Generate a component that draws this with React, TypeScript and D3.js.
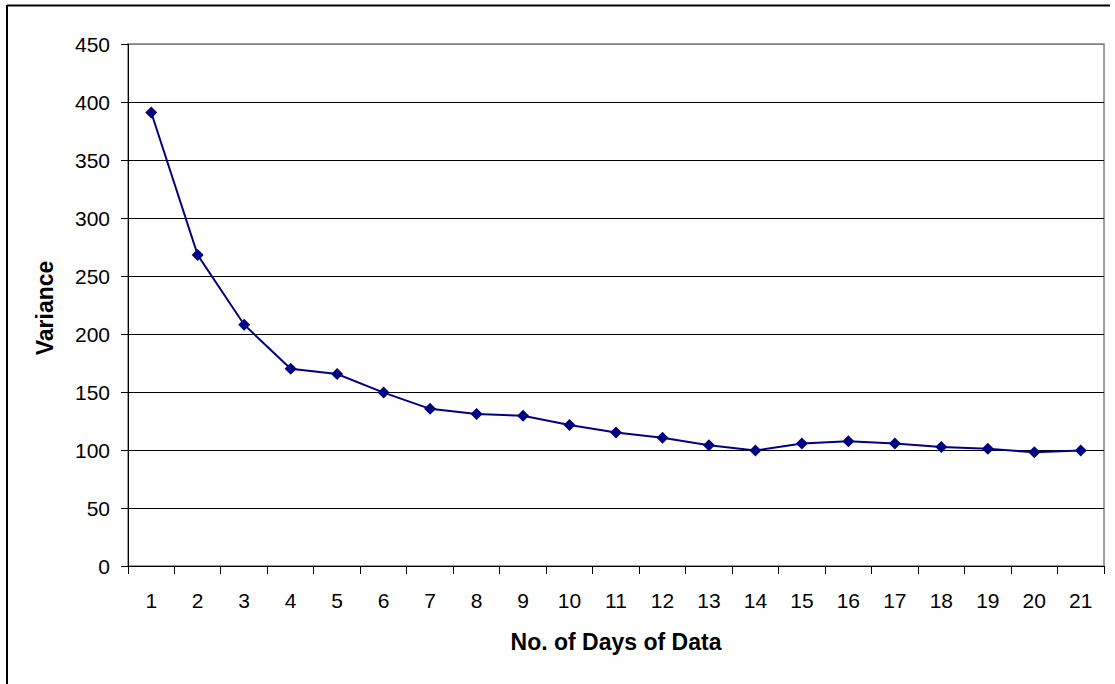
import React from "react";
import * as d3 from "d3";

const days: string[] = ["1","2","3","4","5","6","7","8","9","10","11","12","13","14","15","16","17","18","19","20","21"];
const variance: number[] = [391, 268, 208, 170, 165.5, 149.5, 135.5, 131, 129.5, 121.5, 115, 110.5, 104, 99.5, 105.5, 107.5, 105.5, 102.5, 101, 98, 99.5];
const yTicks: number[] = [0, 50, 100, 150, 200, 250, 300, 350, 400, 450];
const xTitle = "No. of Days of Data";
const yTitle = "Variance";

export default function App() {
  const W = 1115, H = 684;
  const left = 128, right = 1104, top = 44, bottom = 566;
  const x = d3.scaleBand<string>().domain(days).range([left, right]).padding(0);
  const y = d3.scaleLinear().domain([0, 450]).range([bottom, top]);
  const line = d3.line<number>()
    .x((_, i) => (x(days[i]) as number) + x.bandwidth() / 2)
    .y((d) => y(d));
  const font = "'Liberation Sans', Arial, sans-serif";
  const tickBounds = days.map((d) => x(d) as number).concat([right]);
  return (
    <svg width={W} height={H} style={{ position: "absolute", left: 0, top: 0, background: "#fff" }} fontFamily={font}>
      <rect x={0} y={0} width={W} height={H} fill="#fff" />
      {/* outer chart border (cropped) */}
      <line x1={7} y1={5.5} x2={1110} y2={5.5} stroke="#000" strokeWidth={2} />
      <line x1={7} y1={5} x2={7} y2={H} stroke="#000" strokeWidth={2} />
      {/* plot area border */}
      <rect x={left} y={top} width={right - left} height={bottom - top} fill="none" stroke="#808080" strokeWidth={1.5} />
      {/* gridlines */}
      {yTicks.filter((t) => t > 0).map((t) => (
        <line key={"g" + t} x1={left} x2={right} y1={y(t)} y2={y(t)} stroke={t === 450 ? "#808080" : "#000"} strokeWidth={1} shapeRendering="crispEdges" />
      ))}
      {/* axes */}
      <line x1={left} x2={left} y1={top} y2={bottom} stroke="#000" strokeWidth={1} shapeRendering="crispEdges" />
      <line x1={left - 7} x2={right} y1={bottom} y2={bottom} stroke="#000" strokeWidth={1} shapeRendering="crispEdges" />
      {yTicks.map((t) => (
        <g key={"yt" + t}>
          <line x1={left - 7} x2={left} y1={y(t)} y2={y(t)} stroke="#000" strokeWidth={1} shapeRendering="crispEdges" />
          <text x={110} y={y(t)} dy="0.36em" textAnchor="end" fontSize={21} fill="#000">{t}</text>
        </g>
      ))}
      {tickBounds.map((b, i) => (
        <line key={"xt" + i} x1={b} x2={b} y1={bottom} y2={bottom + 8} stroke="#000" strokeWidth={1} shapeRendering="crispEdges" />
      ))}
      {days.map((d) => (
        <text key={"xl" + d} x={(x(d) as number) + x.bandwidth() / 2} y={608} textAnchor="middle" fontSize={21} fill="#000">{d}</text>
      ))}
      {/* series */}
      <path d={line(variance) || ""} fill="none" stroke="#000080" strokeWidth={2} />
      {variance.map((v, i) => {
        const cx = (x(days[i]) as number) + x.bandwidth() / 2;
        const cy = y(v);
        const r = 6;
        return (
          <path key={"m" + i} d={`M${cx},${cy - r}L${cx + r},${cy}L${cx},${cy + r}L${cx - r},${cy}Z`} fill="#000080" />
        );
      })}
      {/* titles */}
      <text x={(left + right) / 2} y={650} textAnchor="middle" fontSize={23} fontWeight="bold" fill="#000">{xTitle}</text>
      <text transform={`translate(53,${(top + bottom) / 2 + 3}) rotate(-90)`} textAnchor="middle" fontSize={23} fontWeight="bold" fill="#000">{yTitle}</text>
    </svg>
  );
}
